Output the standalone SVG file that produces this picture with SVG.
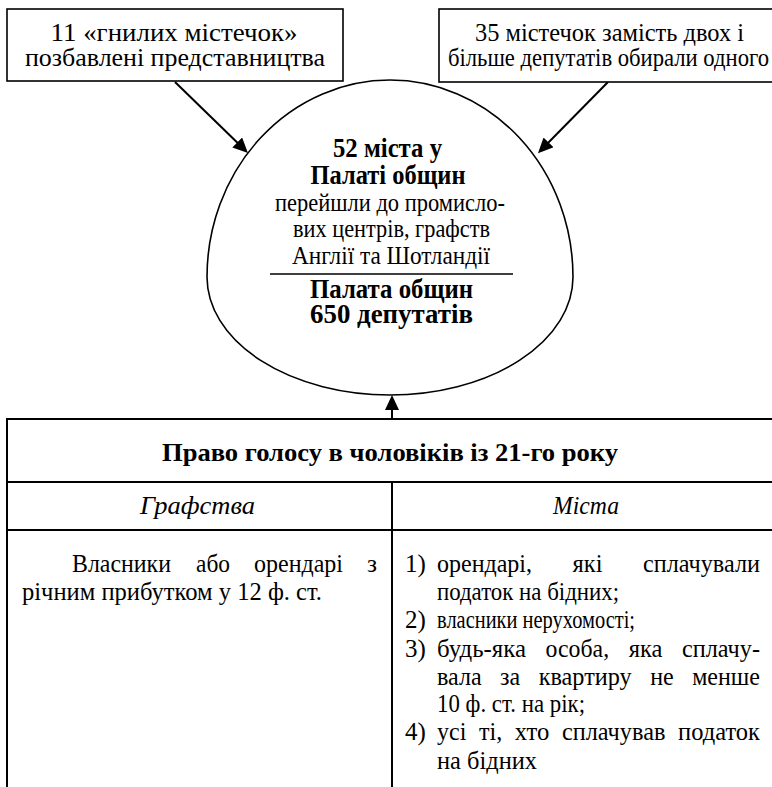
<svg xmlns="http://www.w3.org/2000/svg" width="772" height="787" viewBox="0 0 772 787">
<style>
text{font-family:"Liberation Serif","Times New Roman","DejaVu Serif",serif;fill:#000}
.t26{font-size:26px}
.cb{font-size:28px;font-weight:bold;text-anchor:middle}
.cn{font-size:26px;text-anchor:middle}
.m{text-anchor:middle}
.e{text-anchor:end}
.tb{font-size:25px}
.box{fill:#fff;stroke:#000;stroke-width:1.6}
.ln{stroke:#000;stroke-width:2;fill:none}
</style>
<defs>
<marker id="ah" markerWidth="16" markerHeight="14" refX="5" refY="7" orient="auto" markerUnits="userSpaceOnUse">
<path d="M0,0 L15,7 L0,14 Z" fill="#000"/>
</marker>
</defs>
<rect width="772" height="787" fill="#fff"/>

<g id="connectors">
<line class="ln" x1="175" y1="82" x2="240.8" y2="146" marker-end="url(#ah)"/>
<line class="ln" x1="608" y1="82" x2="545" y2="146" marker-end="url(#ah)"/>
<line class="ln" x1="392" y1="419" x2="392" y2="405" marker-end="url(#ah)"/>
</g>

<g id="box-left" font-family="Liberation Serif, Times New Roman, serif">
<rect class="box" x="7" y="9" width="336" height="72"/>
<text class="t26 m" x="174" y="41" textLength="247" lengthAdjust="spacingAndGlyphs">11 «гнилих містечок»</text>
<text class="t26 m" x="175" y="66" textLength="300" lengthAdjust="spacingAndGlyphs">позбавлені представництва</text>
</g>

<g id="box-right" font-family="Liberation Serif, Times New Roman, serif">
<rect class="box" x="439" y="9" width="345" height="73"/>
<text class="t26 m" x="609.5" y="41" textLength="269" lengthAdjust="spacingAndGlyphs">35 містечок замість двох і</text>
<text class="t26 m" x="608.5" y="66" textLength="321" lengthAdjust="spacingAndGlyphs">більше депутатів обирали одного</text>
</g>

<g id="circle" font-family="Liberation Serif, Times New Roman, serif">
<path d="M207,277 A183,197 0 0 1 573,277 A183,118 0 0 1 207,277 Z" fill="none" stroke="#000" stroke-width="1.6"/>
<text class="cb" x="387.5" y="157" textLength="109" lengthAdjust="spacingAndGlyphs">52 міста у</text>
<text class="cb" x="388" y="184" textLength="155" lengthAdjust="spacingAndGlyphs">Палаті общин</text>
<text class="cn" x="390" y="211" textLength="230" lengthAdjust="spacingAndGlyphs">перейшли до промисло-</text>
<text class="cn" x="391.5" y="237" textLength="197" lengthAdjust="spacingAndGlyphs">вих центрів, графств</text>
<text class="cn" x="391" y="264" textLength="198" lengthAdjust="spacingAndGlyphs">Англії та Шотландії</text>
<line x1="270" y1="274" x2="513" y2="274" stroke="#000" stroke-width="1.6"/>
<text class="cb" x="391.5" y="298" textLength="163" lengthAdjust="spacingAndGlyphs">Палата общин</text>
<text class="cb" x="391.5" y="323" textLength="163" lengthAdjust="spacingAndGlyphs">650 депутатів</text>
</g>

<g id="table" font-family="Liberation Serif, Times New Roman, serif">
<path class="ln" d="M7,790 V419 H790 M7,482 H790 M7,530 H790 M392,482 V790"/>
<text class="t26 m" font-weight="bold" x="390" y="461" textLength="456" lengthAdjust="spacingAndGlyphs">Право голосу в чоловіків із 21-го року</text>
<text class="t26 m" font-style="italic" x="197.5" y="514" textLength="115" lengthAdjust="spacingAndGlyphs">Графства</text>
<text class="t26 m" font-style="italic" x="586" y="514" textLength="66" lengthAdjust="spacingAndGlyphs">Міста</text>

<g id="cell-counties" class="tb">
<text x="72" y="572" textLength="99" lengthAdjust="spacingAndGlyphs">Власники</text>
<text x="196" y="572" textLength="34" lengthAdjust="spacingAndGlyphs">або</text>
<text x="254" y="572" textLength="89" lengthAdjust="spacingAndGlyphs">орендарі</text>
<text class="e" x="377" y="572" textLength="10" lengthAdjust="spacingAndGlyphs">з</text>
<text x="22" y="600" textLength="300" lengthAdjust="spacingAndGlyphs">річним прибутком у 12 ф. ст.</text>
</g>

<g id="cell-towns" class="tb">
<text x="405" y="572">1)</text>
<text x="437" y="572" textLength="95" lengthAdjust="spacingAndGlyphs">орендарі,</text>
<text x="572.5" y="572" textLength="30" lengthAdjust="spacingAndGlyphs">які</text>
<text class="e" x="760" y="572" textLength="117" lengthAdjust="spacingAndGlyphs">сплачували</text>
<text x="437" y="600" textLength="182" lengthAdjust="spacingAndGlyphs">податок на бідних;</text>
<text x="405" y="628">2)</text>
<text x="437" y="628" textLength="198" lengthAdjust="spacingAndGlyphs">власники нерухомості;</text>
<text x="405" y="657">3)</text>
<text x="437" y="657" textLength="89" lengthAdjust="spacingAndGlyphs">будь-яка</text>
<text x="545.6" y="657" textLength="63.5" lengthAdjust="spacingAndGlyphs">особа,</text>
<text x="628.7" y="657" textLength="33.8" lengthAdjust="spacingAndGlyphs">яка</text>
<text class="e" x="760" y="657" textLength="78" lengthAdjust="spacingAndGlyphs">сплачу-</text>
<text x="437" y="685" textLength="44.6" lengthAdjust="spacingAndGlyphs">вала</text>
<text x="500.1" y="685" textLength="20.1" lengthAdjust="spacingAndGlyphs">за</text>
<text x="538.7" y="685" textLength="93" lengthAdjust="spacingAndGlyphs">квартиру</text>
<text x="650.2" y="685" textLength="23.5" lengthAdjust="spacingAndGlyphs">не</text>
<text class="e" x="760" y="685" textLength="67.8" lengthAdjust="spacingAndGlyphs">менше</text>
<text x="437" y="712" textLength="148" lengthAdjust="spacingAndGlyphs">10 ф. ст. на рік;</text>
<text x="405" y="740">4)</text>
<text x="437" y="740" textLength="29.3" lengthAdjust="spacingAndGlyphs">усі</text>
<text x="479" y="740" textLength="23.2" lengthAdjust="spacingAndGlyphs">ті,</text>
<text x="514.8" y="740" textLength="34.5" lengthAdjust="spacingAndGlyphs">хто</text>
<text x="561.9" y="740" textLength="103.5" lengthAdjust="spacingAndGlyphs">сплачував</text>
<text class="e" x="760" y="740" textLength="81.9" lengthAdjust="spacingAndGlyphs">податок</text>
<text x="437" y="769" textLength="100" lengthAdjust="spacingAndGlyphs">на бідних</text>
</g>
</g>
</svg>
